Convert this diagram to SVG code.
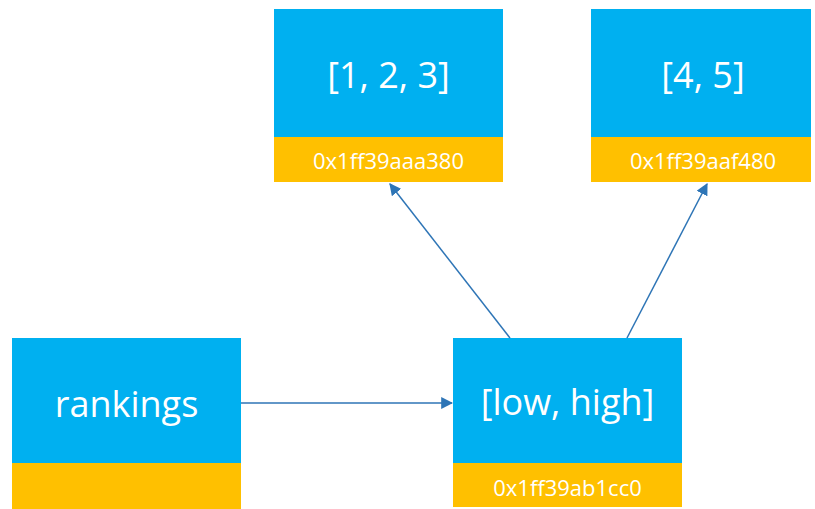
<svg xmlns="http://www.w3.org/2000/svg" width="815" height="509" viewBox="0 0 815 509">
<style>
.blue{fill:#00B0F0}
.yel{fill:#FFC000}
.main{font-family:"Open Sans","Noto Sans",sans-serif;font-size:36px;fill:#fff;text-anchor:middle;dominant-baseline:central}
.addr{font-family:"Open Sans","Noto Sans",sans-serif;font-size:22px;fill:#fff;text-anchor:middle;dominant-baseline:central}
.conn{stroke:#2E75B6;stroke-width:1.5;fill:none;marker-end:url(#ah)}
</style>
<defs>
<marker id="ah" viewBox="0 0 10 10" refX="9" refY="5" markerWidth="12" markerHeight="12" markerUnits="userSpaceOnUse" orient="auto">
<path d="M0,0 L10,5 L0,10 z" fill="#2E75B6"/>
</marker>
</defs>
<rect width="815" height="509" fill="#fff"/>
<g id="list123">
<rect class="blue" x="274" y="9" width="229" height="128"/>
<rect class="yel" x="274" y="137" width="229" height="45"/>
<text class="main" x="388.5" y="74">[1, 2, 3]</text>
<text class="addr" x="388.5" y="160">0x1ff39aaa380</text>
</g>
<g id="list45">
<rect class="blue" x="591" y="9" width="220" height="128"/>
<rect class="yel" x="591" y="137" width="220" height="45"/>
<text class="main" x="703" y="74">[4, 5]</text>
<text class="addr" x="703" y="160">0x1ff39aaf480</text>
</g>
<g id="rankings">
<rect class="blue" x="12" y="338" width="229" height="125"/>
<rect class="yel" x="12" y="463" width="229" height="46"/>
<text class="main" x="126.5" y="403">rankings</text>
</g>
<g id="lowhigh">
<rect class="blue" x="453" y="338" width="229" height="125"/>
<rect class="yel" x="453" y="463" width="229" height="44"/>
<text class="main" x="567.5" y="401">[low, high]</text>
<text class="addr" x="567.5" y="487">0x1ff39ab1cc0</text>
</g>
<g id="connectors">
<line class="conn" x1="241" y1="403" x2="452" y2="403"/>
<line class="conn" x1="510" y1="338" x2="390" y2="184"/>
<line class="conn" x1="627" y1="338" x2="707" y2="184"/>
</g>
</svg>
